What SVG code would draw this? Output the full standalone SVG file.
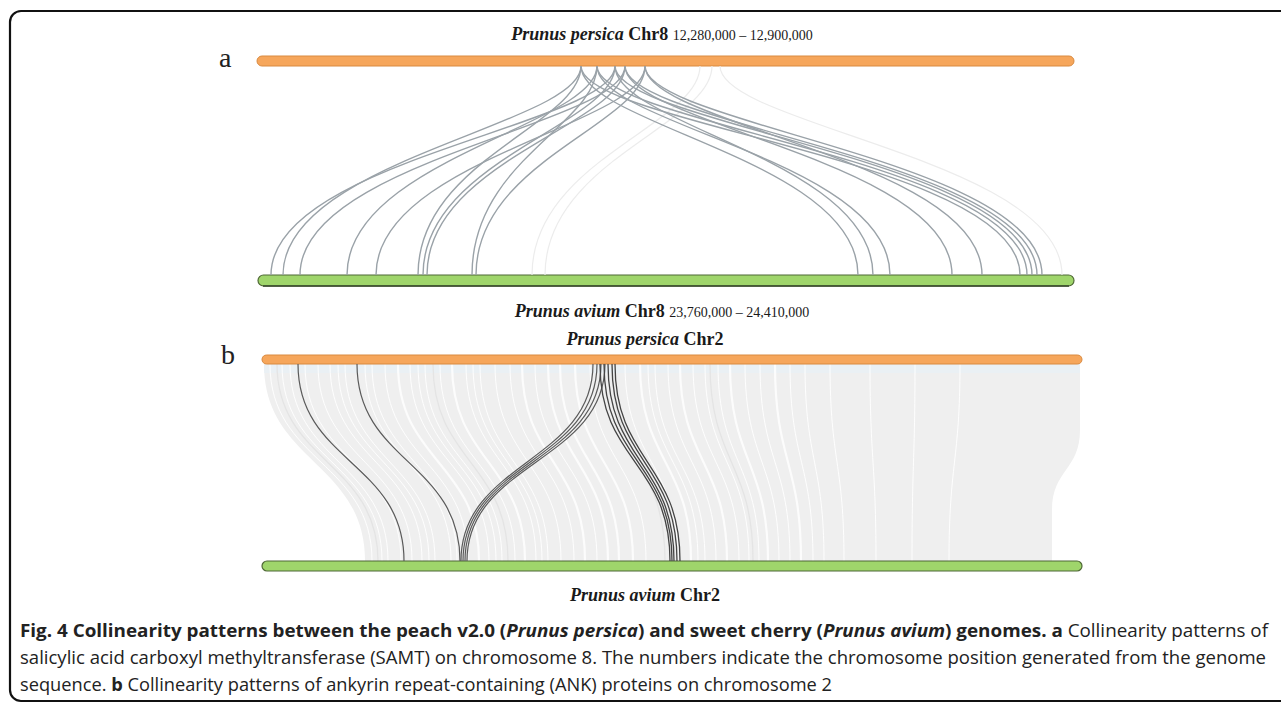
<svg xmlns="http://www.w3.org/2000/svg" width="1281" height="704" viewBox="0 0 1281 704">
<style>
.frame{fill:none;stroke:#111;stroke-width:2.2}
.lbl{font-family:"Liberation Serif","Times New Roman",serif;fill:#1a1a1a;font-size:18px}
.sp{font-style:italic;font-weight:bold}
.chr{font-weight:bold}
.pos{font-size:14px}
.panel{font-family:"Liberation Serif","Times New Roman",serif;font-size:28px;fill:#222}
.persica{fill:#f6a65b;stroke:#d98a40;stroke-width:1}
.avium{fill:#9fd56b;stroke:#4f6836;stroke-width:1.2}
.edge{stroke:#34432a;stroke-width:1.4;fill:none}
.syn{fill:none;stroke:#9aa2a8;stroke-width:1.4}
.faint{fill:none;stroke:#ececec;stroke-width:1.2}
.band{fill:#efefef}
.gap{fill:none;stroke:#fff;stroke-width:1;opacity:.9}
.gapw{fill:none;stroke:#fff;stroke-width:2.2;opacity:.8}
.tone{fill:none;stroke:#e4e4e4;stroke-width:1.3}
.ank{fill:none;stroke:#5a5a5a;stroke-width:1.2}
.ankd{fill:none;stroke:#444;stroke-width:1.3}
.cap{font-family:"Open Sans","Liberation Sans",sans-serif;font-size:18px;fill:#222}
.b{font-weight:bold}
.i{font-style:italic}
</style>

<!-- outer frame -->
<rect class="frame" x="10" y="11" width="1300" height="690" rx="11"/>

<!-- panel a -->
<g id="panel-a">
  <text class="panel" x="219" y="67">a</text>
  <g id="a-persica-chr8">
    <text class="lbl" x="662" y="40" text-anchor="middle"><tspan class="sp">Prunus persica</tspan> <tspan class="chr">Chr8</tspan> <tspan class="pos">12,280,000 – 12,900,000</tspan></text>
    <rect class="persica" x="257" y="56" width="817" height="10" rx="5"/>
  </g>
  <g id="a-avium-chr8">
    <rect class="avium" x="258" y="275" width="816" height="11" rx="5.5"/>
    <path class="edge" d="M263,286 H1069"/>
    <text class="lbl" x="662" y="317" text-anchor="middle"><tspan class="sp">Prunus avium</tspan> <tspan class="chr">Chr8</tspan> <tspan class="pos">23,760,000 – 24,410,000</tspan></text>
  </g>
</g>

<!-- SAMT links, chromosome 8 -->
<g id="a-links">
  <path class="faint" d="M700,66 C700,125 532,160 532,275"/>
  <path class="faint" d="M712,66 C712,125 545,160 545,275"/>
  <path class="faint" d="M720,66 C720,125 1062,160 1062,275"/>
  <path class="syn" d="M615,66 C615,125 271,160 271,275"/>
  <path class="syn" d="M581,66 C581,125 283,160 283,275"/>
  <path class="syn" d="M625,66 C625,125 300,160 300,275"/>
  <path class="syn" d="M597,66 C597,125 347,160 347,275"/>
  <path class="syn" d="M645,66 C645,125 376,160 376,275"/>
  <path class="syn" d="M581,66 C581,125 418,160 418,275"/>
  <path class="syn" d="M615,66 C615,125 423,160 423,275"/>
  <path class="syn" d="M625,66 C625,125 427,160 427,275"/>
  <path class="syn" d="M597,66 C597,125 472,160 472,275"/>
  <path class="syn" d="M645,66 C645,125 476,160 476,275"/>
  <path class="syn" d="M581,66 C581,125 858,160 858,275"/>
  <path class="syn" d="M615,66 C615,125 873,160 873,275"/>
  <path class="syn" d="M597,66 C597,125 890,160 890,275"/>
  <path class="syn" d="M625,66 C625,125 952,160 952,275"/>
  <path class="syn" d="M645,66 C645,125 982,160 982,275"/>
  <path class="syn" d="M581,66 C581,125 1020,160 1020,275"/>
  <path class="syn" d="M597,66 C597,125 1027,160 1027,275"/>
  <path class="syn" d="M615,66 C615,125 1032,160 1032,275"/>
  <path class="syn" d="M625,66 C625,125 1037,160 1037,275"/>
  <path class="syn" d="M645,66 C645,125 1042,160 1042,275"/>
</g>

<!-- panel b -->
<g id="panel-b">
  <text class="panel" x="221" y="364">b</text>
  <g id="b-persica-chr2">
    <text class="lbl" x="645" y="345" text-anchor="middle"><tspan class="sp">Prunus persica</tspan> <tspan class="chr">Chr2</tspan></text>
  </g>
  <g id="b-avium-chr2">
    <text class="lbl" x="645" y="601" text-anchor="middle"><tspan class="sp">Prunus avium</tspan> <tspan class="chr">Chr2</tspan></text>
  </g>
</g>

<!-- genome-wide collinear blocks, chromosome 2 -->
<g id="b-background">
  <path class="band" d="M264,364 H1080 V430 C1080,470 1052,470 1052,510 V561 H365 C365,462 264,462 264,364 Z"/>
  <rect x="264" y="364" width="816" height="9" fill="#e9f0f5" opacity="0.8"/>
  <path class="gap" d="M270,364 C270,462 372,462 372,561"/>
  <path class="gap" d="M282,364 C282,462 382,462 382,561"/>
  <path class="gap" d="M290,364 C290,462 388,462 388,561"/>
  <path class="gap" d="M305,364 C305,462 401,462 401,561"/>
  <path class="gap" d="M318,364 C318,462 412,462 412,561"/>
  <path class="gap" d="M330,364 C330,462 422,462 422,561"/>
  <path class="gap" d="M338,364 C338,462 429,462 429,561"/>
  <path class="gap" d="M345,364 C345,462 435,462 435,561"/>
  <path class="gap" d="M365,364 C365,462 451,462 451,561"/>
  <path class="gap" d="M372,364 C372,462 457,462 457,561"/>
  <path class="gap" d="M385,364 C385,462 468,462 468,561"/>
  <path class="gapw" d="M398,364 C398,462 479,462 479,561"/>
  <path class="gap" d="M410,364 C410,462 489,462 489,561"/>
  <path class="gap" d="M418,364 C418,462 496,462 496,561"/>
  <path class="gap" d="M425,364 C425,462 502,462 502,561"/>
  <path class="gap" d="M440,364 C440,462 515,462 515,561"/>
  <path class="gapw" d="M452,364 C452,462 525,462 525,561"/>
  <path class="gap" d="M466,364 C466,462 536,462 536,561"/>
  <path class="gap" d="M473,364 C473,462 542,462 542,561"/>
  <path class="gap" d="M480,364 C480,462 548,462 548,561"/>
  <path class="gap" d="M495,364 C495,462 561,462 561,561"/>
  <path class="gap" d="M510,364 C510,462 574,462 574,561"/>
  <path class="gapw" d="M522,364 C522,462 585,462 585,561"/>
  <path class="gap" d="M535,364 C535,462 597,462 597,561"/>
  <path class="gapw" d="M548,364 C548,462 608,462 608,561"/>
  <path class="gapw" d="M560,364 C560,462 619,462 619,561"/>
  <path class="gapw" d="M575,364 C575,462 633,462 633,561"/>
  <path class="gap" d="M590,364 C590,462 646,462 646,561"/>
  <path class="gap" d="M625,364 C625,462 678,462 678,561"/>
  <path class="gapw" d="M640,364 C640,462 691,462 691,561"/>
  <path class="gap" d="M648,364 C648,462 698,462 698,561"/>
  <path class="gap" d="M655,364 C655,462 705,462 705,561"/>
  <path class="gap" d="M668,364 C668,462 716,462 716,561"/>
  <path class="gapw" d="M680,364 C680,462 727,462 727,561"/>
  <path class="gap" d="M693,364 C693,462 739,462 739,561"/>
  <path class="gap" d="M705,364 C705,462 749,462 749,561"/>
  <path class="gap" d="M718,364 C718,462 759,462 759,561"/>
  <path class="gapw" d="M730,364 C730,462 768,462 768,561"/>
  <path class="gap" d="M745,364 C745,462 779,462 779,561"/>
  <path class="gap" d="M760,364 C760,462 790,462 790,561"/>
  <path class="gapw" d="M775,364 C775,462 801,462 801,561"/>
  <path class="gap" d="M790,364 C790,462 813,462 813,561"/>
  <path class="gap" d="M805,364 C805,462 824,462 824,561"/>
  <path class="gap" d="M830,364 C830,462 844,462 844,561"/>
  <path class="gap" d="M870,364 C870,462 876,462 876,561"/>
  <path class="gap" d="M915,364 C915,462 912,462 912,561"/>
  <path class="gap" d="M960,364 C960,462 949,462 949,561"/>
  <path class="tone" d="M277,364 C277,462 378,462 378,561"/>
  <path class="tone" d="M433,364 C433,462 508,462 508,561"/>
  <path class="tone" d="M612,364 C612,462 665,462 665,561"/>
  <path class="tone" d="M710,364 C710,462 753,462 753,561"/>
</g>

<!-- chromosome 2 bars drawn over the blocks -->
<g id="b-bars">
  <rect class="persica" x="262" y="355" width="820" height="9" rx="4.5"/>
  <rect class="avium" x="262" y="561" width="820" height="10" rx="5"/>
</g>

<!-- ANK links, chromosome 2 -->
<g id="b-links">
  <path class="ank" d="M298,364 C298,462 404,462 404,561"/>
  <path class="ank" d="M357,364 C357,462 460,462 460,561"/>
  <path class="ank" d="M593,364 C593,462 461,462 461,561"/>
  <path class="ank" d="M597,364 C597,462 463,462 463,561"/>
  <path class="ank" d="M601,364 C601,462 465,462 465,561"/>
  <path class="ank" d="M605,364 C605,462 467,462 467,561"/>
  <path class="ankd" d="M600,364 C600,462 670,462 670,561"/>
  <path class="ankd" d="M604,364 C604,462 672,462 672,561"/>
  <path class="ankd" d="M608,364 C608,462 674,462 674,561"/>
  <path class="ankd" d="M612,364 C612,462 677,462 677,561"/>
  <path class="ankd" d="M615,364 C615,462 680,462 680,561"/>
</g>

<!-- caption -->
<g id="caption">
  <text class="cap" x="20" y="637" textLength="1248" lengthAdjust="spacingAndGlyphs"><tspan class="b">Fig. 4 Collinearity patterns between the peach v2.0 (</tspan><tspan class="b i">Prunus persica</tspan><tspan class="b">) and sweet cherry (</tspan><tspan class="b i">Prunus avium</tspan><tspan class="b">) genomes. a</tspan> Collinearity patterns of</text>
  <text class="cap" x="20" y="664" textLength="1246" lengthAdjust="spacingAndGlyphs">salicylic acid carboxyl methyltransferase (SAMT) on chromosome 8. The numbers indicate the chromosome position generated from the genome</text>
  <text class="cap" x="20" y="691" textLength="812" lengthAdjust="spacingAndGlyphs">sequence. <tspan class="b">b</tspan> Collinearity patterns of ankyrin repeat-containing (ANK) proteins on chromosome 2</text>
</g>
</svg>
